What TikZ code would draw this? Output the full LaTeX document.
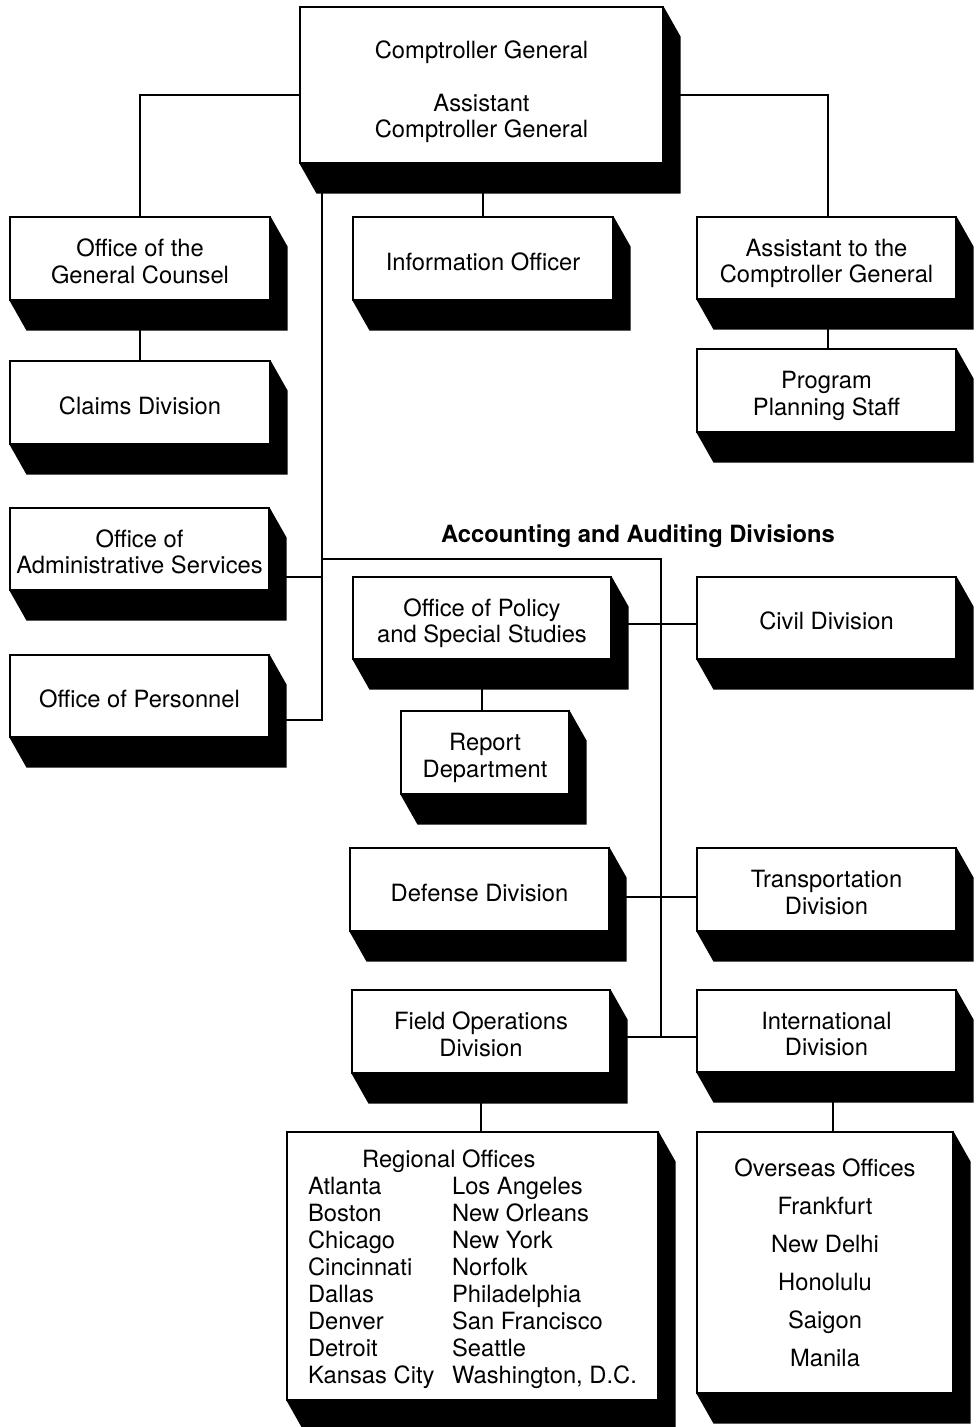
\documentclass[tikz,border=0pt]{standalone}
\usepackage{fontspec}
\setmainfont{TeX Gyre Heros}
\usetikzlibrary{calc}
\tikzset{
  box/.style={draw=black, line width=0.8pt, fill=white, align=center, inner sep=2pt,
    font=\fontsize{17.8}{20}\selectfont},
  conn/.style={draw=black, line width=1.8pt},
  title/.style={font=\fontsize{17.8}{20}\selectfont\bfseries}
}
\newcommand\tl[1]{\begin{tabular}{@{}c@{}}#1\end{tabular}}
% \obox[options]{name}{x1}{y1}{x2}{y2}{lowering}{text}
\newcommand\obox[8][]{%
  \pgfmathsetmacro\bw{(#5-#3)*0.75}%
  \pgfmathsetmacro\bh{(#6-#4)*0.75}%
  \node[box, minimum width=\bw pt, minimum height=\bh pt, #1] (#2) at ({(#3+#5)/2},{(#4+#6)/2}) {\raisebox{-#7}[\height][\depth]{#8}};
  \fill[black] (#2.south west) -- ++(17,30) -- ($(#2.south east)+(17,30)$) -- ($(#2.north east)+(17,30)$) -- (#2.north east) -- (#2.south east) -- cycle;
}
\begin{document}
\begin{tikzpicture}[x=0.75pt,y=-0.75pt]
\useasboundingbox[fill=white] (0,0) rectangle (975,1427);

% junction coordinates
\coordinate (jL) at (140,95);
\coordinate (jR) at (828,95);
\coordinate (sp) at (322,720);
\coordinate (spa) at (322,577);
\coordinate (spc) at (322,559);
\coordinate (acc) at (661,559);
\coordinate (accEnd) at (661,1037);
\coordinate (h1) at (661,624);
\coordinate (h2) at (661,897);
\coordinate (io) at (833,1100);

\obox{top}{300}{7}{663}{163}{5.8pt}{\tl{Comptroller General\\[19.75pt]Assistant\\Comptroller General}}
\obox{ogc}{10}{217}{270}{300}{4.65pt}{\tl{Office of the\\General Counsel}}
\obox{info}{353}{217}{613}{300}{4.65pt}{\tl{Information Officer}}
\obox{asst}{697}{217}{956}{299}{4.65pt}{\tl{Assistant to the\\Comptroller General}}
\obox{claims}{10}{361}{270}{444}{4.65pt}{\tl{Claims Division}}
\obox{pps}{697}{349}{956}{432}{4.65pt}{\tl{Program\\Planning Staff}}
\obox{oas}{10}{508}{269}{590}{4.65pt}{\tl{Office of\\Administrative Services}}
\obox{pers}{10}{655}{269}{737}{4.65pt}{\tl{Office of Personnel}}
\obox{ops}{353}{577}{611}{659}{4.65pt}{\tl{Office of Policy\\and Special Studies}}
\obox{civil}{697}{577}{956}{659}{4.65pt}{\tl{Civil Division}}
\obox{report}{401}{711}{569}{794}{4.65pt}{\tl{Report\\Department}}
\obox{def}{350}{848}{609}{931}{4.65pt}{\tl{Defense Division}}
\obox{trans}{697}{848}{956}{931}{4.65pt}{\tl{Transportation\\Division}}
\obox{fod}{352}{990}{610}{1073}{4.65pt}{\tl{Field Operations\\Division}}
\obox{intl}{697}{990}{956}{1072}{4.65pt}{\tl{International\\Division}}
\obox[font=\fontsize{17.8}{20.2}\selectfont]{reg}{287}{1132}{658}{1400}{3pt}{%
  \begin{tabular}{@{}p{108pt}@{}l@{}}
  \multicolumn{2}{@{}l@{}}{\hspace{40.5pt}Regional Offices}\\
  Atlanta & Los Angeles\\
  Boston & New Orleans\\
  Chicago & New York\\
  Cincinnati & Norfolk\\
  Dallas & Philadelphia\\
  Denver & San Francisco\\
  Detroit & Seattle\\
  Kansas City & Washington, D.C.
  \end{tabular}}
\obox[font=\fontsize{17.8}{28.5}\selectfont]{ovs}{697}{1132}{953}{1393}{0.7pt}{\tl{Overseas Offices\\Frankfurt\\New Delhi\\Honolulu\\Saigon\\Manila}}

\node[title] (acctitle) at (638,536) {Accounting and Auditing Divisions};

% connectors
\draw[conn] (top.west |- jL) -- (jL) -- (ogc.north);
\draw[conn] (top.east |- jR) -- (jR) -- (jR |- asst.north);
\draw[conn] (info.north) -- (info.north |- top.south);
\draw[conn] (ogc.south) -- (claims.north);
\draw[conn] (jR |- asst.south) -- (jR |- pps.north);
\draw[conn] (top.south -| sp) -- (sp) -- (pers.east |- sp);
\draw[conn] (spa) -- (oas.east |- spa);
\draw[conn] (spc) -- (acc) -- (accEnd);
\draw[conn] (ops.east |- h1) -- (civil.west |- h1);
\draw[conn] (def.east |- h2) -- (trans.west |- h2);
\draw[conn] (fod.east |- accEnd) -- (intl.west |- accEnd);
\draw[conn] (ops.south) -- (ops.south |- report.north);
\draw[conn] (fod.south) -- (fod.south |- reg.north);
\draw[conn] (intl.south -| io) -- (ovs.north -| io);
\end{tikzpicture}
\end{document}
